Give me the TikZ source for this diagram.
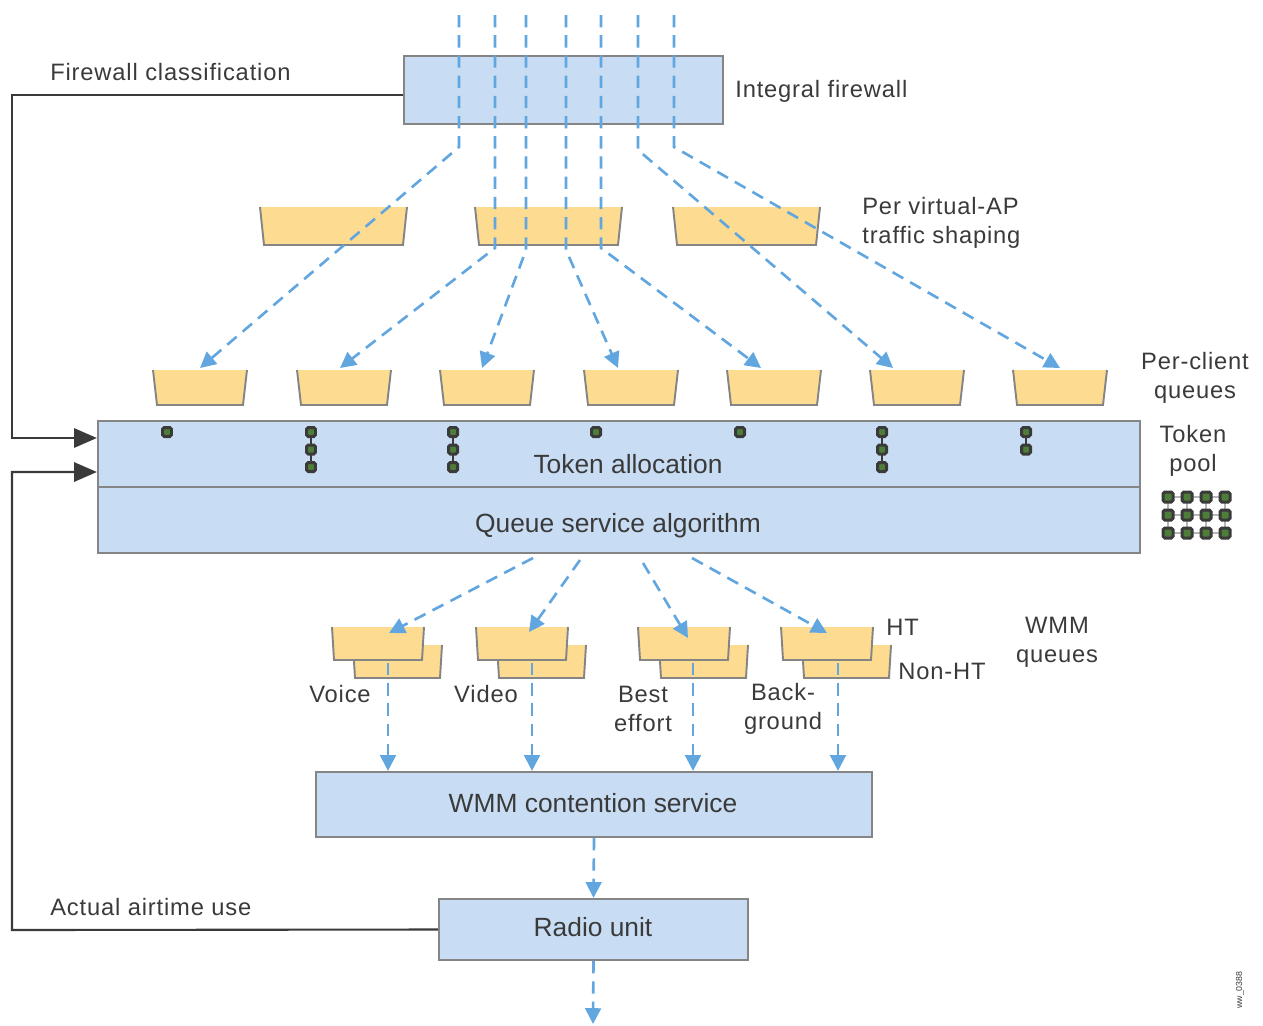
\documentclass[tikz,border=0pt]{standalone}
\usepackage{fontspec}
\setmainfont{Liberation Sans}
\newfontfamily\labelfont[LetterSpace=3.5]{Liberation Sans}
\usetikzlibrary{arrows.meta,fit}
\definecolor{boxblue}{HTML}{C8DDF3}
\definecolor{boxedge}{HTML}{858585}
\definecolor{queuefill}{HTML}{FDDC92}
\definecolor{flow}{HTML}{62A6E0}
\definecolor{ink}{HTML}{3A3A3A}
\definecolor{tokenfill}{HTML}{4E7D3A}

% open-topped queue: fill, then left side, bottom and right side
\newcommand\qbox[5]{%
  \fill[queuefill] ({#1},{#2}) -- ({#3},{#2}) -- ({#3-#5},{#4}) -- ({#1+#5},{#4}) -- cycle;
  \draw[boxedge, line width=1.1pt] ({#1},{#2}) -- ({#1+#5},{#4}) -- ({#3-#5},{#4}) -- ({#3},{#2});}
% a single token, half-size as third argument
\newcommand\tokdot[3]{%
  \filldraw[draw=ink, fill=tokenfill, line width=1.7pt, rounded corners=1pt]
    ({#1-#3},{#2-#3}) rectangle ({#1+#3},{#2+#3});}

\begin{document}
\begin{tikzpicture}[x=0.02cm, y=-0.02cm,
  bluebox/.style={draw=boxedge, line width=1.3pt, fill=boxblue, inner sep=0pt},
  boxtext/.style={text=ink, font=\fontsize{15}{18}\selectfont, inner sep=0pt},
  lbl/.style={text=ink, font=\labelfont\fontsize{13.5}{16.5}\selectfont, inner sep=0pt},
  flowarrow/.style={draw=flow, line width=1.5pt, dash pattern=on 7pt off 4.5pt,
    -{Triangle[length=9pt,width=9pt]}},
  feedback/.style={draw=ink, line width=1.2pt, -{Triangle[length=13pt,width=11pt]}}]

\useasboundingbox (0,0) rectangle (1263,1025);

% ---------- main boxes ----------
\node[bluebox, fit={(404,56) (723,124)}] (fw) {};
\node[bluebox, fit={(98,421) (1140,487)}] (tok) {};
\node[bluebox, fit={(98,487) (1140,553)}] (qsa) {};
\node[bluebox, fit={(316,772) (872,837)}] (wmm) {};
\node[bluebox, fit={(439,899) (748,960)}] (radio) {};

\node[boxtext] (tokt) at (628,464) {Token allocation};
\node[boxtext] (qsat) at (618,526) {Queue service algorithm};
\node[boxtext] (wmmt) at (593,803) {WMM contention service};
\node[boxtext] (radt) at (593,927) {Radio unit};

% ---------- per virtual-AP shaping queues ----------
\qbox{260}{207}{407}{245}{4}
\qbox{475}{207}{622}{245}{4}
\qbox{673}{207}{820}{245}{4}

% ---------- per-client queues ----------
\foreach \x in {153,297,440,584,727,870,1013}
  \qbox{\x}{370}{\x+94}{405}{4};

% ---------- WMM queues (HT in front, non-HT behind) ----------
\foreach \x in {332,476,638,781}{
  \qbox{\x+21}{645}{\x+110}{678}{2}
  \qbox{\x}{627}{\x+92}{660}{2}
}

% ---------- traffic flow ----------
\coordinate (s1) at (459,15);
\coordinate (s2) at (495,15);
\coordinate (s3) at (526,15);
\coordinate (s4) at (566,15);
\coordinate (s5) at (601,15);
\coordinate (s6) at (638,15);
\coordinate (s7) at (674,15);
\coordinate (c1) at (200,368);
\coordinate (c2) at (340,368);
\coordinate (c3) at (482,368);
\coordinate (c4) at (618,368);
\coordinate (c5) at (761,368);
\coordinate (c6) at (893,368);
\coordinate (c7) at (1060,368);

\draw[flowarrow] (s1) -- (459,147) -- (c1);
\draw[flowarrow] (s2) -- (495,248) -- (c2);
\draw[flowarrow] (s3) -- (526,250) -- (c3);
\draw[flowarrow] (s4) -- (566,250) -- (c4);
\draw[flowarrow] (s5) -- (601,248) -- (c5);
\draw[flowarrow] (s6) -- (638,150) -- (c6);
\draw[flowarrow] (s7) -- (674,147) -- (c7);

% queue service to WMM queues
\coordinate (w1) at (389,633);
\coordinate (w2) at (529,632);
\coordinate (w3) at (688,638);
\coordinate (w4) at (827,633);
\draw[flowarrow] (533,558) -- (w1);
\draw[flowarrow] (580,560) -- (w2);
\draw[flowarrow] (643,563) -- (w3);
\draw[flowarrow] (692,558) -- (w4);

% WMM queues to contention service
\foreach \x in {388,532,693,838}
  \draw[flowarrow] (\x,663) -- (\x,0 |- wmm.north);

\draw[flowarrow] (wmm.south) -- (radio.north);
\coordinate (out) at (593,1024);
\draw[flowarrow] (radio.south) -- (out);

% ---------- tokens ----------
\foreach \x/\n in {167/1,311/3,453/3,596/1,740/1,882/3,1026/2}{
  \ifnum\n>1 \draw[ink, line width=1.3pt] (\x,432) -- (\x,{432+17.5*(\n-1)}); \fi
  \foreach \k in {1,...,\n} \tokdot{\x}{432+17.5*(\k-1)}{4.5};
}
% token pool
\foreach \y in {497,515,533}
  \draw[boxedge!60, line width=1.4pt] (1168,\y) -- (1225,\y);
\foreach \x in {1168,1187,1206,1225}{
  \draw[boxedge!60, line width=1.4pt] (\x,497) -- (\x,533);
  \foreach \y in {497,515,533} \tokdot{\x}{\y}{5};
}

% ---------- feedback ----------
\draw[feedback] (fw.west |- 0,95) -- (12,95) |- (tok.west |- 0,438);
\draw[feedback] (radio.west) -- (12,930) |- (tok.west |- 0,472);

% ---------- labels ----------
\node[lbl, anchor=west] (l1) at (50,72) {Firewall classification};
\node[lbl, anchor=west] (l2) at (735,91) {Integral firewall};
\node[lbl, anchor=west, align=left] (l3) at (862,223) {Per virtual-AP\\traffic shaping};
\node[lbl, align=center] (l4) at (1195,378) {Per-client\\queues};
\node[lbl, align=center] (l5) at (1193,451) {Token\\pool};
\node[lbl, anchor=west] (l6) at (886,627) {HT};
\node[lbl, anchor=west] (l7) at (898,671) {Non-HT};
\node[lbl, align=center] (l8) at (1057,642) {WMM\\queues};
\node[lbl] (l9) at (340,694) {Voice};
\node[lbl] (l10) at (486,694) {Video};
\node[lbl, align=center] (l11) at (643,709) {Best\\effort};
\node[lbl, align=center] (l12) at (783,709) {Back-\\ground};
\node[lbl, anchor=west] (l13) at (50,907) {Actual airtime use};
\node[text=ink, font=\fontsize{5}{6}\selectfont, rotate=90, inner sep=0pt] (l14) at (1240,990) {ww\_0388};

\end{tikzpicture}
\end{document}
